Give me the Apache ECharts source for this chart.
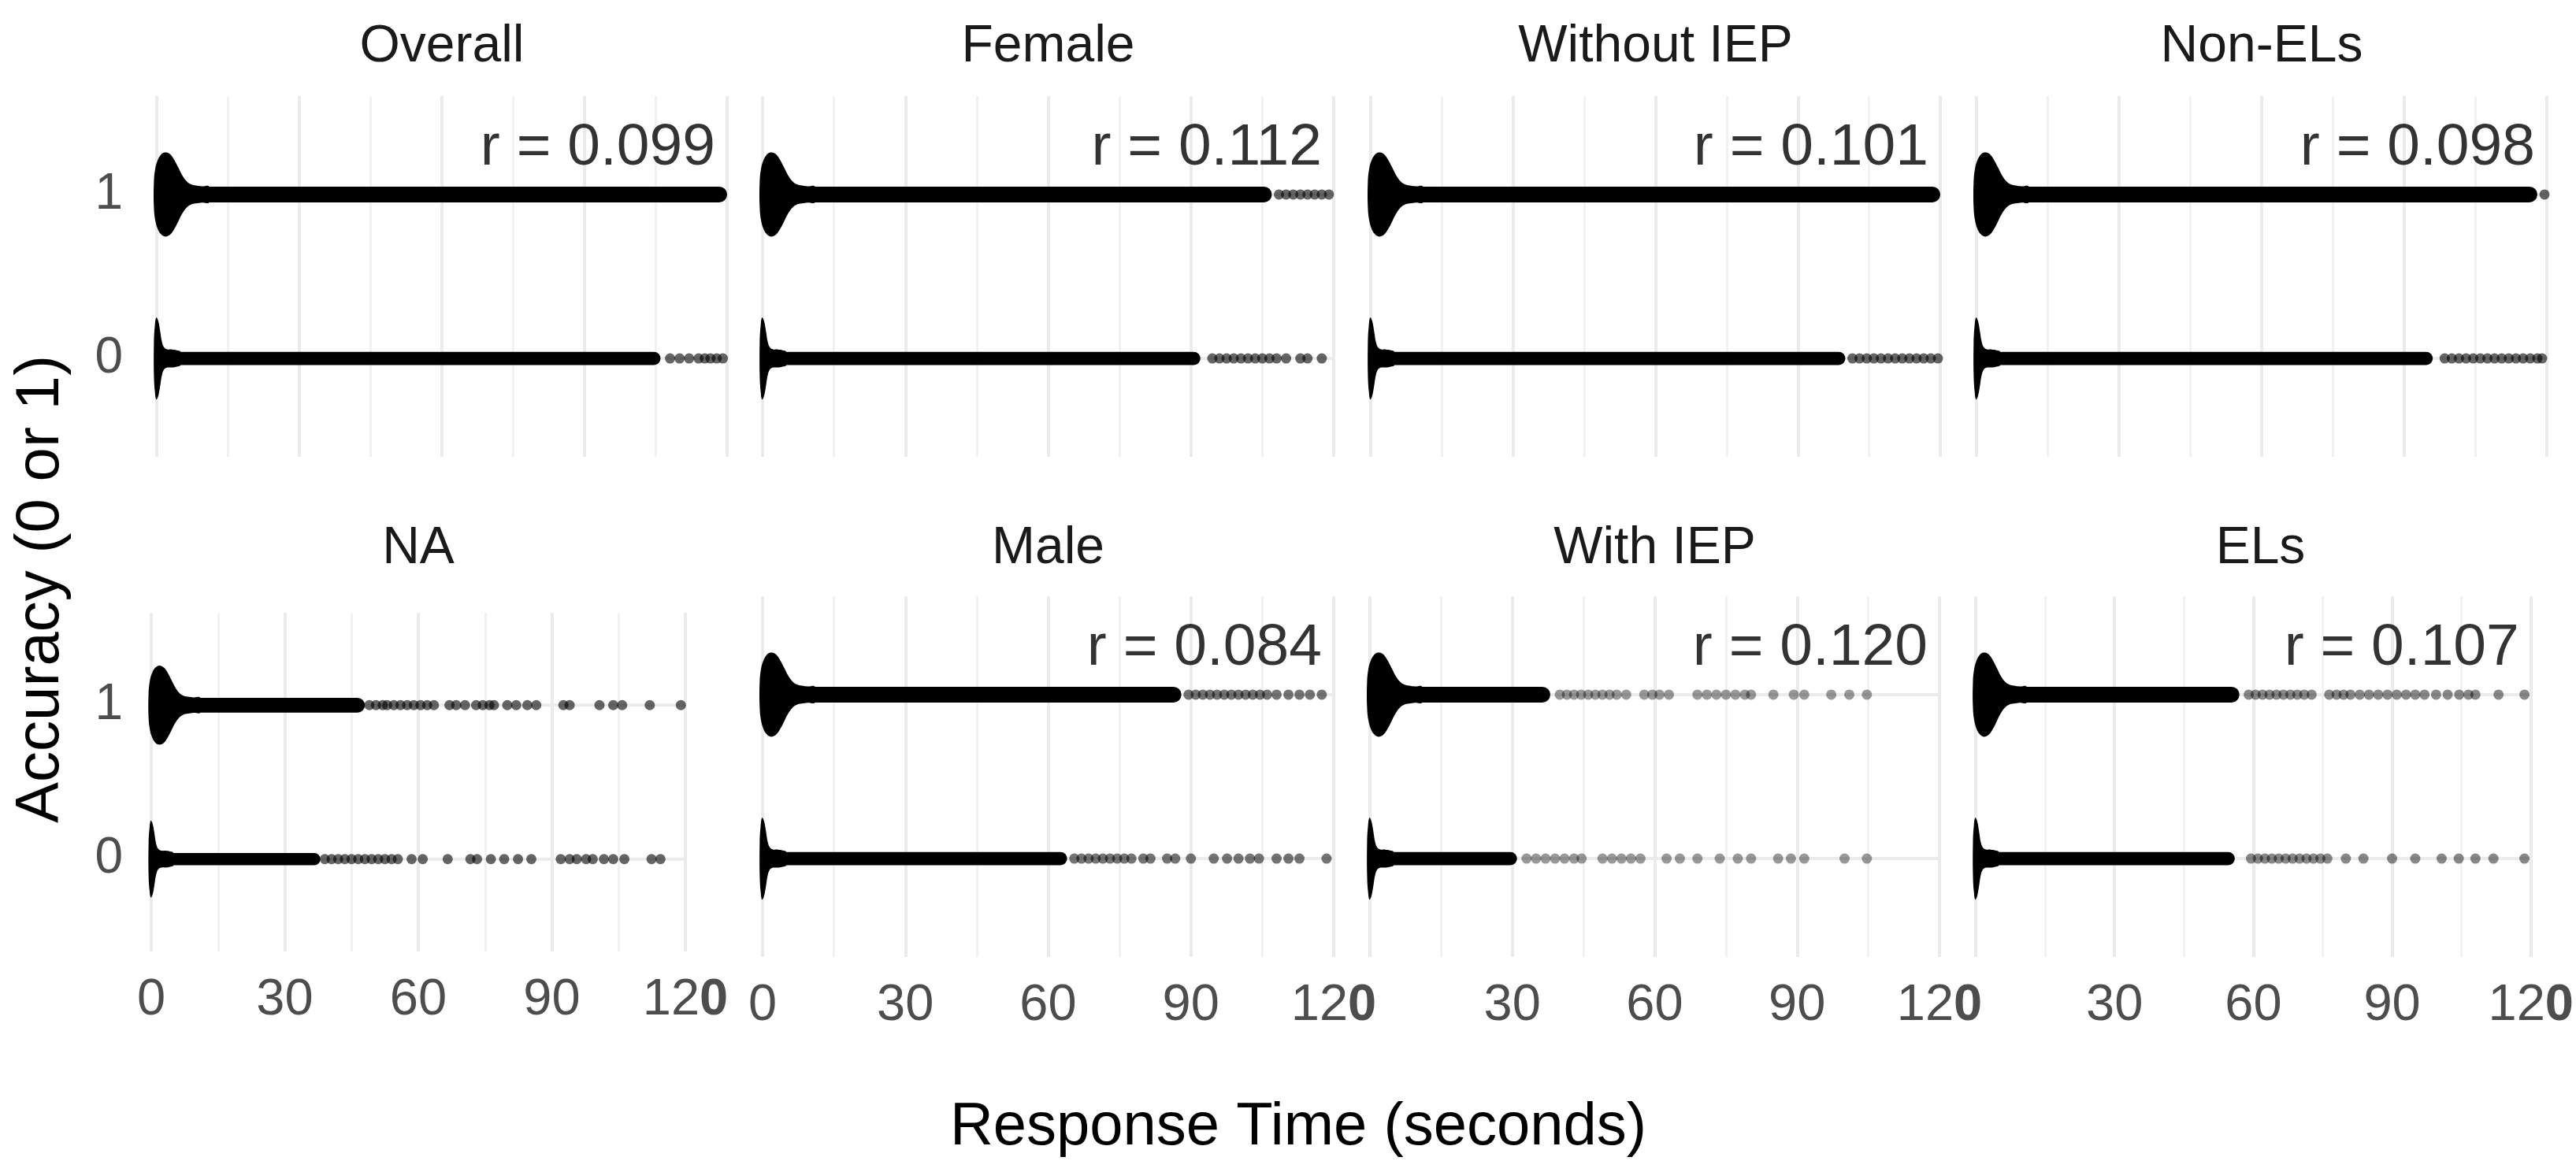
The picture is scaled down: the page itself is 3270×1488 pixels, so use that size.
<!DOCTYPE html>
<html>
<head>
<meta charset="utf-8">
<script src="https://cdn.jsdelivr.net/npm/echarts@6/dist/echarts.min.js"></script>
<style>
html, body { margin: 0; padding: 0; background: #fff; }
#main { width: 3270px; height: 1488px; }
</style>
</head>
<body>
<div id="main"></div>
<script>
// panels, row by row
var panelNames = ['Overall', 'Female', 'Without IEP', 'Non-ELs', 'NA', 'Male', 'With IEP', 'ELs'];
var rValues = ['0.099', '0.112', '0.101', '0.098', null, '0.084', '0.120', '0.107'];
var xTicks = [0, 30, 60, 90, 120];
var yTicks = [0, 1];

// dense part near zero (time in s, half width in accuracy units)
var bulbT1 = [-0.6, -0.3, 0.2, 0.8, 1.5, 2.2, 3.0, 3.8, 4.6, 5.4, 6.3, 7.2, 8.2, 9.5, 11];
var bulbW1 = [0.08, 0.16, 0.21, 0.24, 0.255, 0.255, 0.24, 0.205, 0.16, 0.115, 0.08, 0.062, 0.055, 0.05, 0.048];
var bulbT0 = [-0.6, -0.4, -0.1, 0.3, 0.7, 1.1, 1.6, 2.3, 3.2, 4.2, 5];
var bulbW0 = [0.1, 0.2, 0.25, 0.23, 0.17, 0.1, 0.065, 0.055, 0.055, 0.05, 0.04];

// where the solid band of points stops, per panel
var bandEnd0 = [106, 92, 100, 96, 38, 64, 31, 56];
var bandEnd1 = [120, 107, 120, 118, 48, 88, 38, 57];

// single points after the band (seconds)
var tail1 = [
  [],
  [108.5, 110, 111.5, 113, 114.5, 116, 117.5, 119],
  [],
  [119.5],
  [49, 50.5, 52, 53, 54.5, 56, 57.5, 59, 60.5, 62, 63.5, 67, 68.5, 70.5, 73, 74.5, 76, 77, 80, 82, 84.5, 86.5, 92.6, 94, 100.7, 103.8, 105.8, 112, 119],
  [89.5, 91, 92.5, 94, 95.5, 97, 98.5, 100, 101.5, 103, 104.5, 106, 108, 110.5, 112.8, 115, 117.5],
  [40, 41.5, 43, 44.5, 46, 47.5, 49, 50.5, 52, 54, 57.8, 59.5, 61, 63, 69, 71, 73, 75, 77, 79, 80.3, 85, 89.3, 91.5, 97.2, 101, 104.7],
  [59, 60.5, 62, 63.5, 65, 66.5, 68, 69.5, 71, 72.6, 76.4, 78, 79.5, 81, 83, 85, 87, 89, 91, 93, 95, 97, 99.5, 102, 104.5, 106.5, 108, 113, 118.6]
];
var tail0 = [
  [108, 110, 112, 114, 115.3, 116.5, 117.8, 119.1],
  [94.5, 96, 97.5, 99, 100.5, 102, 103.5, 105, 106.5, 108, 110, 113, 114.5, 117.5],
  [101.5, 103, 104.5, 106, 107.5, 109, 110.5, 112, 113.5, 115, 116.5, 118, 119.5],
  [98.5, 100, 101.5, 103, 104.5, 106, 107.5, 109, 110.5, 112, 113.5, 115, 116.5, 118, 119],
  [39, 40.5, 42, 43.5, 45, 46.5, 48, 49.5, 51, 52.5, 54, 55.4, 58.5, 61, 66.6, 71.7, 73.2, 76.3, 79.3, 82.4, 85.4, 92, 94, 95.6, 97.7, 99.2, 101.7, 103.8, 106.3, 112.4, 114.4],
  [65.5, 67, 68.5, 70, 71.5, 73, 74.5, 76, 77.5, 80, 81.5, 85, 86.7, 90, 94.8, 97.6, 100, 102.4, 104.3, 108, 110.5, 112.8, 118.5],
  [33, 35, 37, 39, 41, 43, 44.6, 49, 51, 53, 55, 57, 62.5, 65.3, 69, 73.7, 77.5, 80.3, 86, 88.7, 91.5, 100, 104.7],
  [59.5, 61, 62.5, 64, 65.5, 67, 68.5, 70, 71.5, 73, 74.5, 76, 80, 83.8, 90, 95, 100.7, 104.4, 108, 111.9, 118.6]
];

// layout in px
var boxes = [
  { l: 199, r: 923, t: 122, b: 580 },
  { l: 968, r: 1693, t: 122, b: 580 },
  { l: 1740, r: 2463, t: 122, b: 580 },
  { l: 2509, r: 3233, t: 122, b: 580 },
  { l: 192, r: 870, t: 778, b: 1208 },
  { l: 968, r: 1693, t: 757, b: 1215 },
  { l: 1739, r: 2462, t: 757, b: 1215 },
  { l: 2508, r: 3231, t: 757, b: 1215 }
];
var dotAlpha = [0.75, 0.75, 0.75, 0.75, 0.75, 0.68, 0.5, 0.58];
var FONT = "'Liberation Sans', Arial, sans-serif";

var myChart = echarts.init(document.getElementById('main'));

function renderLevel(params, api) {
  var lv = api.value(0), end = api.value(1);
  var T = lv ? bulbT1 : bulbT0, W = lv ? bulbW1 : bulbW0;
  var bh = lv ? 0.048 : 0.04;
  var top = [], bot = [];
  for (var i = 0; i < T.length; i++) {
    top.push(api.coord([T[i], lv + W[i]]));
    bot.unshift(api.coord([T[i], lv - W[i]]));
  }
  var a = api.coord([0, lv]), b = api.coord([120, lv]);
  var p1 = api.coord([0, lv + bh]), p2 = api.coord([end, lv - bh]);
  return {
    type: 'group',
    children: [
      { type: 'line', shape: { x1: a[0], y1: a[1], x2: b[0], y2: b[1] }, style: { stroke: '#ebebeb', lineWidth: 4 } },
      { type: 'rect', shape: { x: p1[0], y: p1[1], width: p2[0] - p1[0], height: p2[1] - p1[1], r: (p2[1] - p1[1]) / 2 }, style: { fill: '#000' } },
      { type: 'polygon', shape: { points: top.concat(bot), smooth: 0.4 }, style: { fill: '#000' } }
    ]
  };
}

var grids = [], xAxes = [], yAxes = [], series = [], graphics = [];

panelNames.forEach(function (name, i) {
  var bx = boxes[i];
  var bottomRow = i >= 4;
  var leftCol = i % 4 === 0;
  grids.push({ left: bx.l, top: bx.t, width: bx.r - bx.l, height: bx.b - bx.t });
  xAxes.push({
    gridIndex: i, type: 'value', min: 0, max: 120, interval: 30,
    axisLine: { show: false }, axisTick: { show: false },
    minorTick: { show: false, splitNumber: 2 },
    splitLine: { show: true, lineStyle: { color: '#ebebeb', width: 4 } },
    minorSplitLine: { show: true, lineStyle: { color: '#efefef', width: 2.5 } },
    axisLabel: {
      show: bottomRow, margin: 30, fontSize: 65, color: '#4d4d4d', fontFamily: FONT,
      customValues: xTicks,
      formatter: function (v) {
        if (v === 120) return '12{b|0}';
        if (v === 0 && i >= 6) return '';
        return String(v);
      },
      rich: { b: { fontSize: 65, fontWeight: 'bold', color: '#4d4d4d', fontFamily: FONT } }
    }
  });
  yAxes.push({
    gridIndex: i, type: 'value', min: -0.6, max: 1.6,
    axisLine: { show: false }, axisTick: { show: false }, splitLine: { show: false },
    axisLabel: {
      show: leftCol, customValues: yTicks, margin: bx.l - 156,
      fontSize: 64, color: '#4d4d4d', fontFamily: FONT
    }
  });
  graphics.push({
    type: 'text', x: (bx.l + bx.r) / 2, y: bottomRow ? 697 : 60,
    style: { text: name, fontSize: 66, fontFamily: FONT, fill: '#1a1a1a', align: 'center', verticalAlign: 'middle' }
  });
  series.push({
    type: 'custom', xAxisIndex: i, yAxisIndex: i, silent: true, clip: false,
    renderItem: renderLevel,
    data: [[0, bandEnd0[i]], [1, bandEnd1[i]]]
  });
  var dots = tail0[i].map(function (t) { return [t, 0]; })
    .concat(tail1[i].map(function (t) { return [t, 1]; }));
  series.push({
    type: 'scatter', xAxisIndex: i, yAxisIndex: i, silent: true, clip: false,
    symbolSize: 13, itemStyle: { color: 'rgba(0,0,0,' + dotAlpha[i] + ')' },
    data: dots
  });
  if (rValues[i]) {
    series.push({
      type: 'scatter', xAxisIndex: i, yAxisIndex: i, silent: true, clip: false,
      symbolSize: 0, data: [[120, 1.28]],
      label: {
        show: true, position: 'left', distance: 15,
        formatter: 'r = ' + rValues[i],
        fontSize: 75, color: '#000', fontFamily: FONT
      }
    });
  }
});

graphics.push({
  type: 'text', x: 1648, y: 1432,
  style: { text: 'Response Time (seconds)', fontSize: 76, fontFamily: FONT, fill: '#000', align: 'center', verticalAlign: 'middle' }
});
graphics.push({
  type: 'text', x: 52, y: 748, rotation: Math.PI / 2,
  style: { text: 'Accuracy (0 or 1)', fontSize: 78, fontFamily: FONT, fill: '#000', align: 'center', verticalAlign: 'middle' }
});

myChart.setOption({
  animation: false,
  backgroundColor: '#fff',
  grid: grids,
  xAxis: xAxes,
  yAxis: yAxes,
  series: series,
  graphic: graphics
});
window.onresize = function () { myChart.resize(); };
</script>
</body>
</html>
